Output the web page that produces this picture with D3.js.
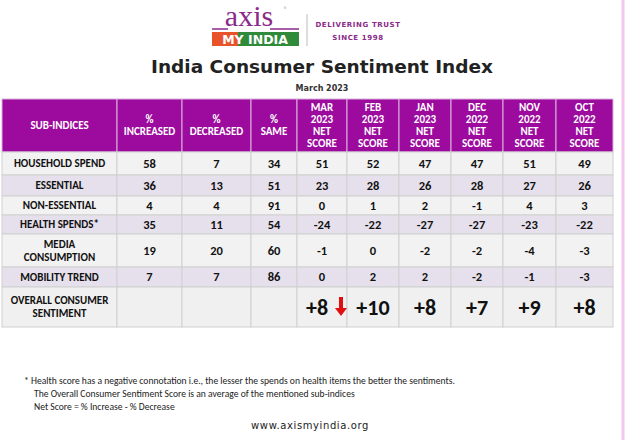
<!DOCTYPE html>
<html><head><meta charset="utf-8">
<script src="https://cdn.jsdelivr.net/npm/d3@7"></script>
<style>body{margin:0;background:#fff;font-family:Carlito,Lato,"Open Sans",sans-serif}</style>
</head><body><svg id="c" width="627" height="440"></svg>
<script>
const headers = ['SUB-INDICES', '%|INCREASED', '%|DECREASED', '%|SAME',
  'MAR|2023|NET|SCORE', 'FEB|2023|NET|SCORE', 'JAN|2023|NET|SCORE',
  'DEC|2022|NET|SCORE', 'NOV|2022|NET|SCORE', 'OCT|2022|NET|SCORE'];
const subIndices = ['HOUSEHOLD SPEND', 'ESSENTIAL', 'NON-ESSENTIAL', 'HEALTH SPENDS*', 'MEDIA|CONSUMPTION', 'MOBILITY TREND'];
const increased = [58, 36, 4, 35, 19, 7];
const decreased = [7, 13, 4, 11, 20, 7];
const same = [34, 51, 91, 54, 60, 86];
const netMar23 = [51, 23, 0, -24, -1, 0];
const netFeb23 = [52, 28, 1, -22, 0, 2];
const netJan23 = [47, 26, 2, -27, -2, 2];
const netDec22 = [47, 28, -1, -27, -2, -2];
const netNov22 = [51, 27, 4, -23, -4, -1];
const netOct22 = [49, 26, 3, -22, -3, -3];
const overall = ['', '', '', '+8', '+10', '+8', '+7', '+9', '+8'];

const svg = d3.select('#c');
const colEdges = [2, 117, 182, 251, 297, 347, 399, 451, 503, 556, 613];
const rowEdges = [99, 152, 175, 196, 215, 234, 267, 287, 327];
const xL = i => colEdges[i], xW = i => colEdges[i + 1] - colEdges[i];
const yT = i => rowEdges[i], yH = i => rowEdges[i + 1] - rowEdges[i];

svg.append('line').attr('x1', 623).attr('x2', 623).attr('y1', 0).attr('y2', 440)
  .attr('stroke', '#f4c6ec').attr('stroke-width', 3);

// logo
svg.append('text').attr('x', 249).attr('y', 26).attr('text-anchor', 'middle')
  .attr('font-family', 'Liberation Serif,serif').attr('font-size', 30).attr('fill', '#8a2a8a').text('axis');
svg.append('text').attr('x', 284).attr('y', 11).attr('font-size', 6).attr('fill', '#8a2a8a').text('®');
svg.append('line').attr('x1', 212).attr('x2', 228).attr('y1', 29).attr('y2', 29).attr('stroke', '#8a2a8a').attr('stroke-width', 1.5);
svg.append('line').attr('x1', 270).attr('x2', 299).attr('y1', 29).attr('y2', 29).attr('stroke', '#8a2a8a').attr('stroke-width', 1.5);
svg.append('rect').attr('x', 212).attr('y', 32).attr('width', 26).attr('height', 14).attr('fill', '#e8532a');
svg.append('rect').attr('x', 238).attr('y', 32).attr('width', 61).attr('height', 14).attr('fill', '#2f8a3a');
svg.append('text').attr('x', 255).attr('y', 44).attr('text-anchor', 'middle').attr('font-family', 'DejaVu Sans')
  .attr('font-weight', 'bold').attr('font-size', 12.5).attr('fill', '#fff').text('MY INDIA');
svg.append('line').attr('x1', 307).attr('x2', 307).attr('y1', 14).attr('y2', 46).attr('stroke', '#bbb');
svg.append('text').attr('x', 358).attr('y', 27).attr('text-anchor', 'middle').attr('font-family', 'DejaVu Sans')
  .attr('font-weight', 'bold').attr('font-size', 7).attr('fill', '#8a2a8a').attr('letter-spacing', 0.6).text('DELIVERING TRUST');
svg.append('text').attr('x', 358).attr('y', 40).attr('text-anchor', 'middle').attr('font-family', 'DejaVu Sans')
  .attr('font-weight', 'bold').attr('font-size', 7).attr('fill', '#8a2a8a').attr('letter-spacing', 0.6).text('SINCE 1998');

svg.append('text').attr('x', 322).attr('y', 73).attr('text-anchor', 'middle').attr('font-family', 'DejaVu Sans')
  .attr('font-weight', 'bold').attr('font-size', 18.5).attr('fill', '#222').text('India Consumer Sentiment Index');
svg.append('text').attr('x', 322).attr('y', 91).attr('text-anchor', 'middle').attr('font-family', 'DejaVu Sans')
  .attr('font-weight', 'bold').attr('font-size', 8).attr('fill', '#333').text('March  2023');

// cells
const rows = subIndices.map((s, i) => [s, increased[i], decreased[i], same[i], netMar23[i], netFeb23[i], netJan23[i], netDec22[i], netNov22[i], netOct22[i]]);
const all = [headers, ...rows, ['OVERALL CONSUMER|SENTIMENT', ...overall]];
const fills = ['#9c0a9e', '#f2f2f2', '#e6e0ec', '#f2f2f2', '#e6e0ec', '#f2f2f2', '#e6e0ec', '#f0f0f0'];

all.forEach((row, r) => {
  const g = svg.append('g');
  g.selectAll('rect').data(row).join('rect')
    .attr('x', (d, c) => xL(c)).attr('y', yT(r)).attr('width', (d, c) => xW(c)).attr('height', yH(r))
    .attr('fill', fills[r]).attr('stroke', r === 0 ? '#d9b3da' : '#d0d0d0').attr('stroke-width', 1);
  row.forEach((d, c) => {
    const lines = String(d).split('|');
    const big = r === 7 && c > 0;
    const fs = big ? 22 : (r === 0 || c === 0 ? 11 : 12.5);
    const lh = r === 0 ? 12 : 13;
    const cx = xL(c) + xW(c) / 2 - (r === 7 && c === 4 ? 5 : 0);
    const cy = yT(r) + yH(r) / 2;
    const t = g.append('text').attr('text-anchor', 'middle').attr('font-weight', 'bold')
      .attr('font-size', fs).attr('fill', r === 0 ? '#fff' : '#111');
    lines.forEach((l, k) => t.append('tspan').attr('x', cx)
      .attr('y', cy + (k - (lines.length - 1) / 2) * lh + fs * 0.35).text(l));
  });
});

// red arrow next to +8
const ax = xL(4) + xW(4) - 6, ay = yT(7) + 10;
svg.append('rect').attr('x', ax - 2).attr('y', ay).attr('width', 4).attr('height', 12).attr('fill', '#e01010');
svg.append('path').attr('d', `M${ax - 6},${ay + 11}L${ax + 6},${ay + 11}L${ax},${ay + 19}Z`).attr('fill', '#e01010');

// footnotes
const notes = [['*  Health score has a negative connotation i.e., the lesser the spends on health items the better the sentiments.', 24, 384],
  ['The Overall Consumer Sentiment Score is an average of the mentioned sub-indices', 34, 397],
  ['Net Score = % Increase - % Decrease', 34, 410]];
svg.selectAll('.note').data(notes).join('text').attr('x', d => d[1]).attr('y', d => d[2])
  .attr('font-size', 9.6).attr('fill', '#222').text(d => d[0]);
svg.append('text').attr('x', 310).attr('y', 429).attr('text-anchor', 'middle').attr('font-family', 'DejaVu Sans')
  .attr('font-size', 10).attr('fill', '#222').attr('letter-spacing', 0.6).text('www.axismyindia.org');
</script></body></html>
